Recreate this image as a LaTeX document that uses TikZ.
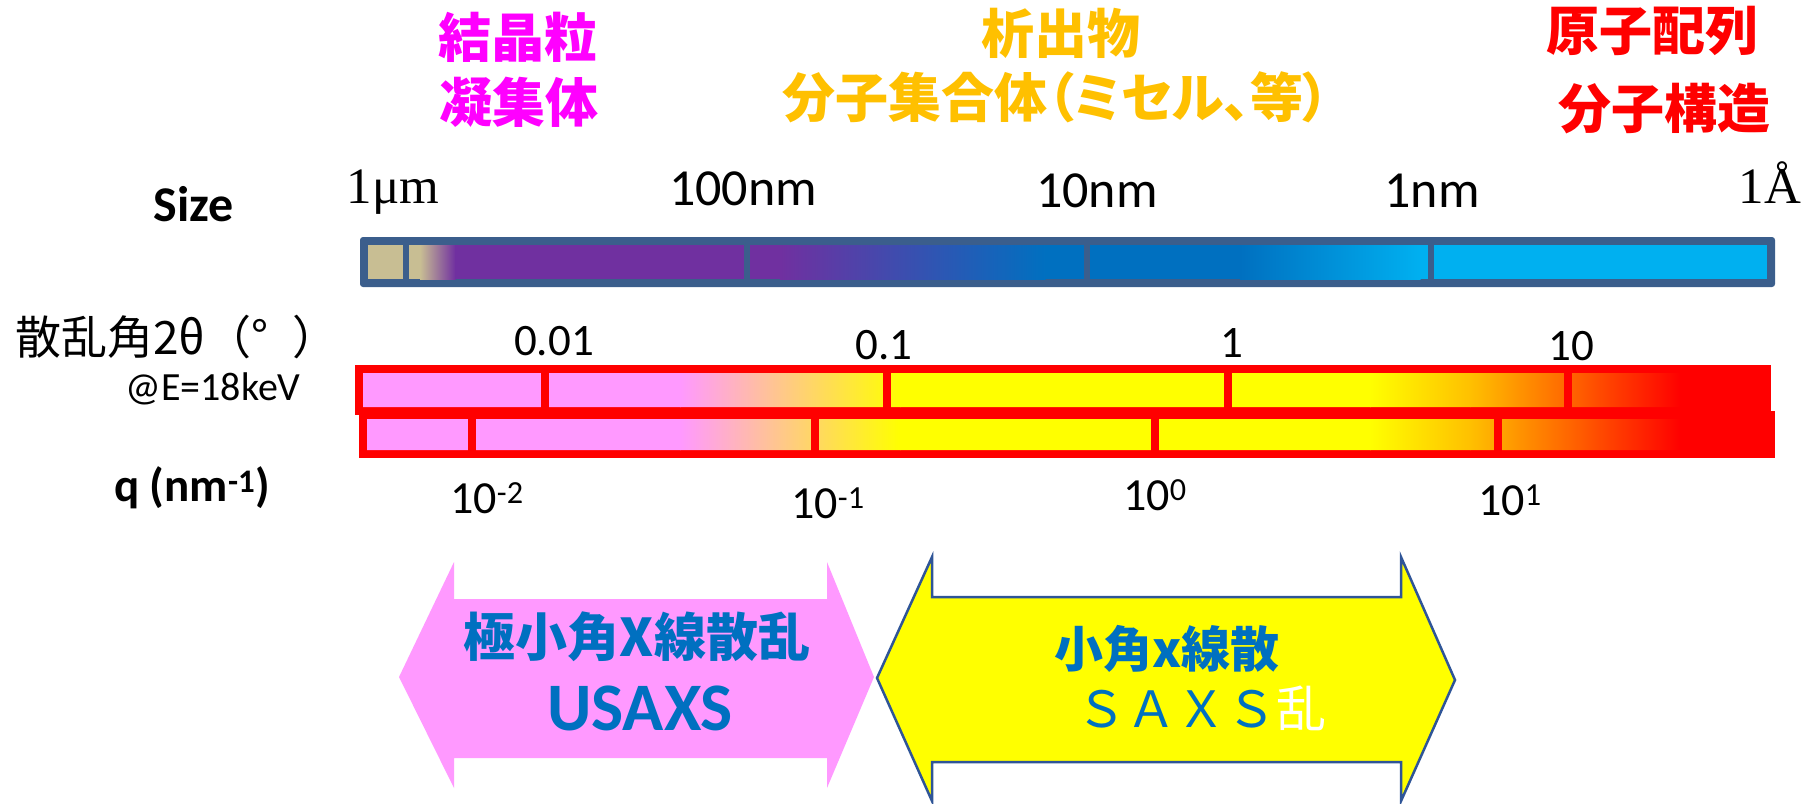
\documentclass[tikz,border=0pt]{standalone}
\usepackage{fontspec}
\newfontfamily\jp{Noto Sans CJK JP}
\newfontfamily\jpp[RawFeature=+palt]{Noto Sans CJK JP}
\newfontfamily\calib{Carlito}
\newfontfamily\tms{Liberation Serif}
\definecolor{magc}{HTML}{FF00FF}
\definecolor{orgc}{HTML}{FFC000}
\definecolor{redc}{HTML}{FF0000}
\definecolor{bordc}{HTML}{3B5E8C}
\definecolor{tanc}{HTML}{C8BE93}
\definecolor{purpc}{HTML}{7030A0}
\definecolor{bluc}{HTML}{0070C0}
\definecolor{lbluc}{HTML}{00B0F0}
\definecolor{pnkc}{HTML}{FF99FF}
\definecolor{yelc}{HTML}{FFFF00}
\definecolor{arrline}{HTML}{2F5597}
\tikzset{
  toplabel/.style={inner sep=0pt, font=\jp\bfseries\fontsize{53}{58}\selectfont},
  sizelab/.style={inner sep=0pt, anchor=base, font=\calib\fontsize{52}{58}\selectfont},
  serlab/.style={inner sep=0pt, anchor=base, font=\tms\fontsize{51}{56}\selectfont},
  anglab/.style={inner sep=0pt, anchor=base, font=\calib\fontsize{45}{50}\selectfont},
  qlab/.style={inner sep=0pt, anchor=base, font=\calib\fontsize{46}{50}\selectfont},
  rowhead/.style={inner sep=0pt, font=\calib\bfseries\fontsize{50}{56}\selectfont},
  bardiv/.style={line width=6pt, bordc},
  reddiv/.style={line width=8pt, redc},
}
\begin{document}
\begin{tikzpicture}[x=1pt,y=-1pt]
\useasboundingbox (0,0) rectangle (1811,803);

% ---------- top category labels
\node[toplabel, text=magc] (kessho) at (518,37) {結晶粒};
\node[toplabel, text=magc] (gyoshu) at (519,102) {凝集体};
\node[toplabel, text=orgc] (sekishutsu) at (1061,33) {析出物};
\node[toplabel, text=orgc, font=\jpp\bfseries\fontsize{53}{58}\selectfont] (bunshi) at (1056,97) {分子集合体（ミセル、等）};
\node[toplabel, text=redc] (genshi) at (1652,31) {原子配列};
\node[toplabel, text=redc] (kozo) at (1664,109) {分子構造};

% ---------- size scale
\node[rowhead] (size) at (194,204) {Size};
\node[serlab] (um) at (393,203) {1μm};
\node[sizelab] (nm100) at (743,205) {100nm};
\node[sizelab] (nm10) at (1097,207) {10nm};
\node[sizelab] (nm1) at (1432,207) {1nm};
\node[serlab] (ang) at (1770,203) {1Å};

% blue bar
\fill[bordc, rounded corners=3pt] (360,237) rectangle (1775,287);
\fill[tanc] (368,245) rectangle (420.5,279);
\shade[left color=tanc, right color=purpc] (420,245) rectangle (455.5,279);
\fill[purpc] (455,245) rectangle (780.5,279);
\shade[left color=purpc, right color=bluc] (780,245) rectangle (1045.5,279);
\fill[bluc] (1045,245) rectangle (1240.5,279);
\shade[left color=bluc, right color=lbluc] (1240,245) rectangle (1420.5,279);
\fill[lbluc] (1420,245) rectangle (1767,279);
\foreach \xx in {406,747,1087,1431} \draw[bardiv] (\xx,241) -- (\xx,283);

% ---------- scattering angle / q scale
\node[inner sep=0pt, anchor=west, font=\jp\fontsize{46}{50}\selectfont] (angle) at (15,337) {散乱角2θ（°\hspace{24pt}）};
\node[inner sep=0pt, font=\calib\fontsize{40}{44}\selectfont] (energy) at (213,389) {@E=18keV};
\node[anglab] (a001) at (554,355) {0.01};
\node[anglab] (a01) at (884,359) {0.1};
\node[anglab] (a1) at (1232,357) {1};
\node[anglab] (a10) at (1571,360) {10};

% red double bar
\fill[redc] (355,365) rectangle (1771,415);
\fill[redc] (359,411) rectangle (1775,458);
\begin{scope}
  \clip (363,373) rectangle (1765,407) (367,419) rectangle (1767,450);
  \fill[pnkc] (355,365) rectangle (680.5,458);
  \shade[left color=pnkc, right color=yelc] (680,365) rectangle (900.5,458);
  \fill[yelc] (900,365) rectangle (1370.5,458);
  \shade[left color=yelc, right color=orgc] (1370,365) rectangle (1470.5,458);
  \shade[left color=orgc, right color=redc] (1470,365) rectangle (1680.5,458);
  \fill[redc] (1680,365) rectangle (1775,458);
\end{scope}
\foreach \xx in {545,887,1228,1568} \draw[reddiv] (\xx,369) -- (\xx,411);
\foreach \xx in {472,815,1155,1498} \draw[reddiv] (\xx,415) -- (\xx,454);

\node[rowhead, font=\calib\bfseries\fontsize{47}{50}\selectfont] (q) at (192,488) {q (nm\textsuperscript{-1})};
\node[qlab] (qm2) at (487,513) {10\textsuperscript{-2}};
\node[qlab] (qm1) at (828,518) {10\textsuperscript{-1}};
\node[qlab] (q0) at (1155,510) {10\textsuperscript{0}};
\node[qlab] (q1) at (1510,515) {10\textsuperscript{1}};

% ---------- range arrows
\fill[pnkc] (399,677) -- (454,562) -- (454,599) -- (827,599) -- (827,562) -- (874,677)
  -- (827,788) -- (827,758) -- (454,758) -- (454,788) -- cycle;
\filldraw[fill=yelc, draw=arrline, line width=2.5pt, line join=miter]
  (877,678) -- (932,557) -- (932,597) -- (1401,597) -- (1401,557) -- (1455,680)
  -- (1401,801) -- (1401,762) -- (932,762) -- (932,801) -- cycle;

\node[inner sep=0pt, text=bluc, font=\jp\bfseries\fontsize{52}{56}\selectfont] (usaxsjp) at (637,637) {極小角X線散乱};
\node[inner sep=0pt, anchor=base, text=bluc, font=\calib\bfseries\fontsize{68}{72}\selectfont] (usaxs) at (640,730) {USAXS};
\node[inner sep=0pt, text=bluc, font=\jp\bfseries\fontsize{49}{54}\selectfont] (saxsjp) at (1167,649) {小角x線散};
\node[inner sep=0pt, font=\jp\fontsize{50}{54}\selectfont] (saxs) at (1201,708) {\textcolor{bluc}{ＳＡＸＳ}\textcolor{white}{乱}};
\end{tikzpicture}
\end{document}
